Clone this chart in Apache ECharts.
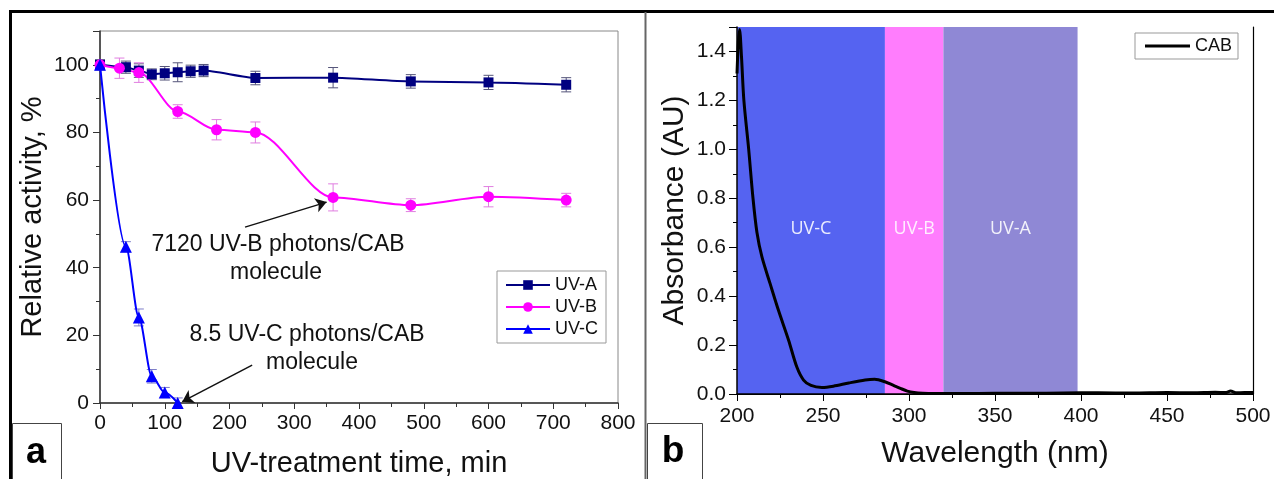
<!DOCTYPE html>
<html>
<head>
<meta charset="utf-8">
<script src="https://cdn.jsdelivr.net/npm/echarts@6/dist/echarts.min.js"></script>
<style>
html, body {margin: 0; padding: 0; background: #fff;}
#main {width: 1274px; height: 479px;}
</style>
</head>
<body>
<div id="main"></div>
<script>
// panel a - relative activity vs UV-treatment time
var timeA = [0, 40, 60, 80, 100, 120, 140, 160, 240, 360, 480, 600, 720];
var actA  = [100, 99.3, 98.3, 97.2, 97.5, 97.8, 98.1, 98.3, 96.1, 96.2, 95.1, 94.8, 94.1];
var errA  = [1.5, 1.8, 2, 1.6, 2, 2.8, 1.8, 1.8, 2, 3, 2, 2.1, 2.1];

var timeB = [0, 30, 60, 120, 180, 240, 360, 480, 600, 720];
var actB  = [100, 99, 97.7, 86.2, 80.8, 80, 60.8, 58.5, 61, 60];
var errB  = [1, 3, 2.9, 2, 3, 3.1, 4, 1.9, 3, 2];

var timeC = [0, 40, 60, 80, 100, 120];
var actC  = [100, 46.2, 25.3, 7.9, 3.1, 0];
var errC  = [1, 1.5, 2.5, 2, 1.5, 1.5];

// panel b - absorbance spectrum of CAB
var wavelength = [200, 200.8, 201.5, 202.6, 204, 206.8, 209.3, 211.6, 214.5, 219.3, 224.2, 230, 234.8,
  238.7, 243, 249.4, 256, 265, 274.5, 280, 286, 291, 295, 299, 303, 308, 315, 330, 350, 370, 390,
  410, 430, 450, 465, 478, 484, 487, 490, 495, 500];
var absorbance = [1.31, 1.44, 1.49, 1.38, 1.2, 1.0, 0.8, 0.66, 0.56, 0.45, 0.34, 0.22, 0.11,
  0.057, 0.035, 0.027, 0.032, 0.045, 0.057, 0.06, 0.05, 0.035, 0.023, 0.012, 0.006, 0.003, 0.002, 0.002, 0.003, 0.003, 0.004,
  0.005, 0.004, 0.006, 0.005, 0.007, 0.006, 0.012, 0.005, 0.006, 0.006];

var bandNames  = ['UV-C', 'UV-B', 'UV-A'];
var bandEdges  = [200, 286, 320, 398];
var bandColors = ['#5563f1', '#ff7dfd', '#8f88d5'];

var chart = echarts.init(document.getElementById('main'));
var FONT = '"Liberation Sans", Arial, sans-serif';

function pairs(xs, ys) {
	return xs.map(function(x, i) { return [x, ys[i]]; });
}

function errorBars(xs, ys, es, color) {
	return {
		type: 'custom',
		xAxisIndex: 0,
		yAxisIndex: 0,
		silent: true,
		z: 1,
		encode: {x: 0, y: 1},
		data: xs.map(function(x, i) { return [x, ys[i], es[i]]; }),
		renderItem: function(params, api) {
			var x = api.value(0), y = api.value(1), e = api.value(2);
			var hi = api.coord([x, y + e]);
			var lo = api.coord([x, y - e]);
			var w = 5;
			var st = {stroke: color, lineWidth: 1};
			return {
				type: 'group',
				children: [
					{type: 'line', shape: {x1: hi[0], y1: hi[1], x2: lo[0], y2: lo[1]}, style: st},
					{type: 'line', shape: {x1: hi[0] - w, y1: hi[1], x2: hi[0] + w, y2: hi[1]}, style: st},
					{type: 'line', shape: {x1: lo[0] - w, y1: lo[1], x2: lo[0] + w, y2: lo[1]}, style: st}
				]
			};
		}
	};
}

var bandAreas = bandNames.map(function(n, i) {
	return [
		{name: n, xAxis: bandEdges[i], itemStyle: {color: bandColors[i]}},
		{xAxis: bandEdges[i + 1]}
	];
});

var arrowStyle = {
	silent: true,
	symbol: ['none', 'arrow'],
	symbolSize: 11,
	label: {show: false},
	lineStyle: {color: '#111', width: 1.5, type: 'solid'}
};

var tickLabel = {color: '#111', fontSize: 21, fontFamily: FONT};
var nameStyle = {color: '#111', fontSize: 29, fontFamily: FONT};

var option = {
	animation: false,
	grid: [
		{left: 100, top: 31, width: 518, height: 372, show: true, borderColor: '#888', borderWidth: 1, outerBoundsMode: 'none'},
		{left: 737, top: 27, width: 516, height: 367, outerBoundsMode: 'none'}
	],
	legend: [
		{
			data: ['UV-A', 'UV-B', 'UV-C'],
			orient: 'vertical',
			left: 497, top: 271,
			padding: [5, 8, 5, 8],
			itemWidth: 44, itemHeight: 12, itemGap: 4,
			borderColor: '#999', borderWidth: 1,
			textStyle: {fontSize: 18, fontFamily: FONT, color: '#111'}
		},
		{
			data: [{name: 'CAB', icon: 'rect'}],
			left: 1135, top: 33,
			padding: [3, 6, 3, 10],
			itemWidth: 45, itemHeight: 3,
			borderColor: '#999', borderWidth: 1,
			textStyle: {fontSize: 18, fontFamily: FONT, color: '#111', lineHeight: 20}
		}
	],
	xAxis: [
		{
			gridIndex: 0, type: 'value', min: 0, max: 800, interval: 100,
			name: 'UV-treatment time, min', nameLocation: 'middle', nameGap: 46, nameTextStyle: nameStyle,
			axisLine: {lineStyle: {color: '#333', width: 1.5}},
			axisTick: {length: 6, lineStyle: {color: '#333'}},
			minorTick: {show: true, splitNumber: 2, length: 4, lineStyle: {color: '#333'}},
			axisLabel: Object.assign({margin: 10}, tickLabel),
			splitLine: {show: false}
		},
		{
			gridIndex: 1, type: 'value', min: 200, max: 500, interval: 50, z: 10,
			name: 'Wavelength (nm)', nameLocation: 'middle', nameGap: 45, nameTextStyle: Object.assign({}, nameStyle, {fontSize: 30}),
			axisLine: {lineStyle: {color: '#000', width: 1.5}},
			axisTick: {length: 7, lineStyle: {color: '#000'}},
			minorTick: {show: true, splitNumber: 2, length: 4, lineStyle: {color: '#000'}},
			axisLabel: Object.assign({margin: 12}, tickLabel),
			splitLine: {show: false}
		},
		{
			gridIndex: 1, type: 'value', min: 200, max: 500, position: 'top', z: 10,
			axisLine: {lineStyle: {color: '#000', width: 1.2}},
			axisTick: {show: false}, axisLabel: {show: false}, splitLine: {show: false}
		}
	],
	yAxis: [
		{
			gridIndex: 0, type: 'value', min: 0, max: 110, interval: 20,
			name: 'Relative activity, %', nameLocation: 'middle', nameGap: 53, nameTextStyle: nameStyle,
			axisLine: {show: true, lineStyle: {color: '#333', width: 1.5}},
			axisTick: {show: true, length: 7, lineStyle: {color: '#333'}},
			minorTick: {show: true, splitNumber: 2, length: 4, lineStyle: {color: '#333'}},
			axisLabel: Object.assign({margin: 11, formatter: function(v) { return v % 20 === 0 ? v : ''; }}, tickLabel),
			splitLine: {show: false}
		},
		{
			gridIndex: 1, type: 'value', min: 0, max: 1.5, interval: 0.2, z: 10,
			name: 'Absorbance (AU)', nameLocation: 'middle', nameGap: 47, nameTextStyle: Object.assign({}, nameStyle, {fontSize: 30}),
			axisLine: {show: true, lineStyle: {color: '#000', width: 1.5}},
			axisTick: {show: true, length: 8, lineStyle: {color: '#000'}},
			minorTick: {show: true, splitNumber: 2, length: 4, lineStyle: {color: '#000'}},
			axisLabel: Object.assign({margin: 11, formatter: function(v) { return v > 1.45 ? '' : v.toFixed(1); }}, tickLabel),
			splitLine: {show: false}
		},
		{
			gridIndex: 1, type: 'value', min: 0, max: 1.5, position: 'right', z: 10,
			axisLine: {show: true, lineStyle: {color: '#000', width: 1.2}},
			axisTick: {show: false}, axisLabel: {show: false}, splitLine: {show: false}
		}
	],
	series: [
		errorBars(timeA, actA, errA, '#55557a'),
		errorBars(timeB, actB, errB, '#e07ee0'),
		errorBars(timeC, actC, errC, '#7d7dc8'),
		{
			name: 'UV-A', type: 'line', xAxisIndex: 0, yAxisIndex: 0,
			data: pairs(timeA, actA), smooth: 0.2, smoothMonotone: 'x',
			color: '#000080', symbol: 'rect', symbolSize: 10,
			lineStyle: {width: 2}
		},
		{
			name: 'UV-B', type: 'line', xAxisIndex: 0, yAxisIndex: 0,
			data: pairs(timeB, actB), smooth: 0.3, smoothMonotone: 'x',
			color: '#ff00ff', symbol: 'circle', symbolSize: 11,
			lineStyle: {width: 2},
			markLine: Object.assign({data: [[{coord: [224, 52]}, {coord: [350, 59.4]}]]}, arrowStyle)
		},
		{
			name: 'UV-C', type: 'line', xAxisIndex: 0, yAxisIndex: 0,
			data: pairs(timeC, actC), smooth: 0.3, smoothMonotone: 'x',
			color: '#0000ff', symbol: 'triangle', symbolSize: 12,
			lineStyle: {width: 2},
			markLine: Object.assign({data: [[{coord: [235, 11.2]}, {coord: [127, 0.4]}]]}, arrowStyle)
		},
		{
			name: 'CAB', type: 'line', xAxisIndex: 1, yAxisIndex: 1,
			data: pairs(wavelength, absorbance), smooth: 0.3,
			color: '#000', symbol: 'none',
			lineStyle: {width: 3, color: '#000'},
			z: 3,
			markArea: {
				silent: true,
				z: 1,
				label: {
					show: true, position: 'inside', offset: [0, 18],
					color: 'rgba(255,255,255,0.88)', fontSize: 18, fontFamily: '"Open Sans", sans-serif'
				},
				data: bandAreas
			}
		}
	],
	graphic: [
		{type: 'line', shape: {x1: 10, y1: 11.5, x2: 1274, y2: 11.5}, style: {stroke: '#000', lineWidth: 3}},
		{type: 'line', shape: {x1: 10.5, y1: 10, x2: 10.5, y2: 479}, style: {stroke: '#000', lineWidth: 3}},
		{type: 'line', shape: {x1: 645.5, y1: 12, x2: 645.5, y2: 479}, style: {stroke: '#666', lineWidth: 2}},
		{type: 'rect', shape: {x: 12.5, y: 423.5, width: 49, height: 60}, style: {fill: '#fff', stroke: '#444', lineWidth: 1}},
		{type: 'rect', shape: {x: 647.5, y: 423.5, width: 55, height: 60}, style: {fill: '#fff', stroke: '#444', lineWidth: 1}},
		{type: 'text', style: {text: 'a', x: 36, y: 453, align: 'center', verticalAlign: 'middle',
			fontSize: 36, fontWeight: 'bold', fontFamily: FONT, fill: '#000'}},
		{type: 'text', style: {text: 'b', x: 673, y: 452, align: 'center', verticalAlign: 'middle',
			fontSize: 37, fontWeight: 'bold', fontFamily: FONT, fill: '#000'}},
		{type: 'text', style: {text: '7120 UV-B photons/CAB', x: 278, y: 245, align: 'center', verticalAlign: 'middle',
			fontSize: 23, fontFamily: FONT, fill: '#111'}},
		{type: 'text', style: {text: 'molecule', x: 276, y: 273, align: 'center', verticalAlign: 'middle',
			fontSize: 23, fontFamily: FONT, fill: '#111'}},
		{type: 'text', style: {text: '8.5 UV-C photons/CAB', x: 307, y: 335, align: 'center', verticalAlign: 'middle',
			fontSize: 23, fontFamily: FONT, fill: '#111'}},
		{type: 'text', style: {text: 'molecule', x: 312, y: 363, align: 'center', verticalAlign: 'middle',
			fontSize: 23, fontFamily: FONT, fill: '#111'}}
	]
};

chart.setOption(option);
</script>
</body>
</html>
